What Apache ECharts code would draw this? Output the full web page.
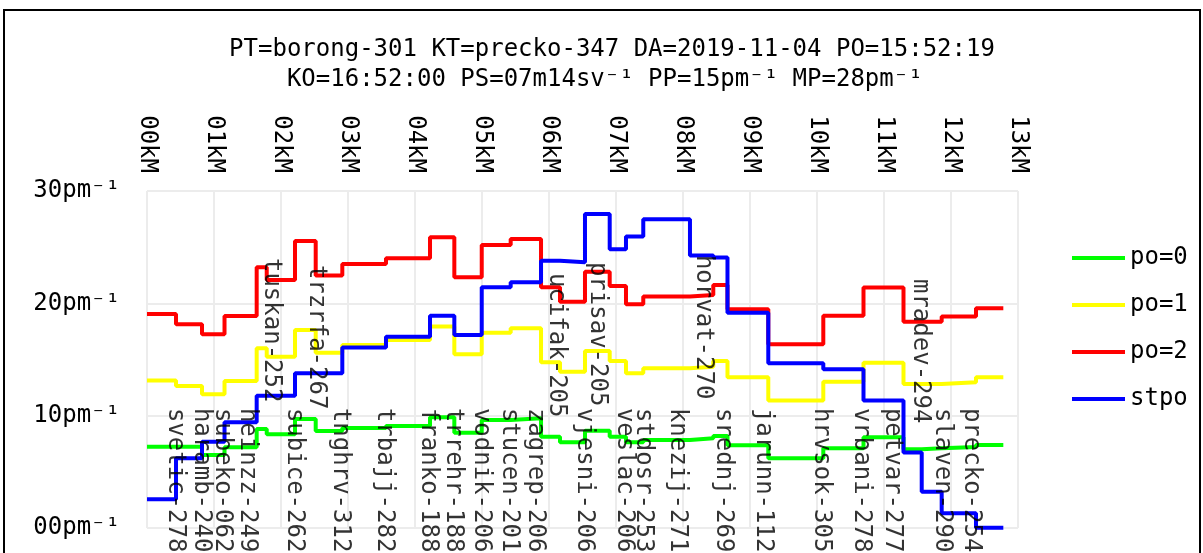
<!DOCTYPE html>
<html>
<head>
<meta charset="utf-8">
<script src="https://cdn.jsdelivr.net/npm/echarts@6/dist/echarts.min.js"></script>
<style>
  html, body { margin: 0; padding: 0; background: #fff; overflow: hidden; }
  #frame { position: absolute; left: 3px; top: 9px; width: 1194px; height: 600px; border: 2px solid #000; }
  #chart { position: absolute; left: 0; top: 0; width: 1203px; height: 553px; }
</style>
</head>
<body>
<div id="frame"></div>
<div id="chart"></div>
<script>
// station positions along the route (km), last one is the end point
const stationKm = [0, 0.433, 0.821, 1.157, 1.637, 1.787, 2.209, 2.518, 2.915, 3.567, 4.224, 4.587,
  4.996, 5.428, 5.881, 6.164, 6.537, 6.906, 7.149, 7.407, 8.104, 8.452, 8.664, 9.273, 10.094,
  10.694, 11.291, 11.563, 11.861, 12.373, 12.781];

// value per segment (from station i to station i+1)
const po0 = [7.24, 7.24, 6.5, 7.19, 8.82, 8.34, 9.71, 8.64, 8.9, 9.08, 9.86, 8.49, 9.62, 9.77,
  8.13, 7.63, 8.66, 8.13, 7.63, 7.84, 7.99, 8.19, 7.36, 6.21, 7.1, 8.08, 7.01, 7.1, 7.21, 7.39];
const po1 = [13.12, 12.64, 11.91, 13.09, 16.0, 15.25, 17.63, 15.61, 16.3, 16.74, 17.93, 15.47,
  17.39, 17.78, 14.76, 13.92, 15.76, 14.87, 13.78, 14.22, 14.36, 14.87, 13.42, 11.34, 13.03,
  14.72, 12.82, 12.82, 12.97, 13.42];
const po2 = [19.06, 18.14, 17.25, 18.88, 23.21, 22.08, 25.56, 22.47, 23.51, 24.02, 25.89, 22.32,
  25.2, 25.73, 21.43, 20.15, 22.82, 21.55, 19.92, 20.6, 20.75, 21.64, 19.47, 16.36, 18.9, 21.4,
  18.37, 18.37, 18.82, 19.56];
const stpo = [2.56, 6.21, 7.68, 9.41, 11.78, 11.78, 13.78, 13.78, 16.06, 17.03, 18.9, 17.19,
  21.43, 21.88, 23.8, 23.66, 27.96, 24.82, 25.94, 27.49, 24.25, 24.07, 19.17, 14.67, 14.13,
  11.34, 6.71, 3.23, 1.31, 0.02];

// station labels: name, x position (km), top of text (value)
const stopNames = ['svetic-278', 'haramb-240', 'subeko-062', 'heinzz-249', 'tuskan-252',
  'subice-262', 'trzrfa-267', 'tnghrv-312', 'trbajj-282', 'franko-188', 'trrehr-188',
  'vodnik-206', 'stucen-201', 'zagrep-206', 'ucifak-205', 'vjesni-206', 'prisav-205',
  'veslac-206', 'stdosr-253', 'knezij-271', 'horvat-270', 'srednj-269', 'jarunn-112',
  'hrvsok-305', 'vrbani-278', 'petvar-277', 'mradev-294', 'slaven-290', 'precko-254'];
const stopLabelKm = [0.418, 0.806, 1.127, 1.493, 1.851, 2.194, 2.522, 2.881, 3.537, 4.194,
  4.567, 4.985, 5.403, 5.791, 6.104, 6.522, 6.716, 7.119, 7.403, 7.91, 8.299, 8.597, 9.194,
  10.06, 10.657, 11.119, 11.537, 11.866, 12.299];
const stopLabelY = [10.69, 10.69, 10.69, 10.69, 24.04, 10.69, 23.42, 10.69, 10.69, 10.69,
  10.69, 10.69, 10.69, 10.69, 22.7, 10.69, 23.69, 10.69, 10.69, 10.69, 24.31, 10.69, 10.69,
  10.69, 10.69, 10.69, 22.17, 10.69, 10.69];

const titleText = 'PT=borong-301 KT=precko-347 DA=2019-11-04 PO=15:52:19\n' +
  'KO=16:52:00 PS=07m14sv\u207b\u00b9 PP=15pm\u207b\u00b9 MP=28pm\u207b\u00b9 ';

const FONT = 'DejaVu Sans Mono';

function steps(vals) {
  const d = vals.map((v, i) => [stationKm[i], v]);
  d.push([stationKm[stationKm.length - 1], vals[vals.length - 1]]);
  return d;
}

function pad2(n) {
  return (n < 10 ? '0' : '') + n;
}

const chart = echarts.init(document.getElementById('chart'));

const lineSeries = (name, color, vals) => ({
  name: name,
  type: 'line',
  step: 'end',
  showSymbol: false,
  data: steps(vals),
  lineStyle: { color: color, width: 4 },
  itemStyle: { color: color },
  z: 3
});

chart.setOption({
  animation: false,
  textStyle: { fontFamily: FONT },
  title: {
    text: titleText,
    left: 607,
    top: 30,
    textAlign: 'center',
    textStyle: { fontFamily: FONT, fontSize: 24, fontWeight: 'normal', color: '#000', lineHeight: 30 }
  },
  legend: {
    orient: 'vertical',
    left: 1067,
    top: 241,
    itemWidth: 53,
    itemHeight: 4,
    itemGap: 23,
    icon: 'rect',
    data: ['po=0', 'po=1', 'po=2', 'stpo'],
    textStyle: { fontFamily: FONT, fontSize: 24, color: '#000' }
  },
  grid: { left: 147, right: 185, top: 191, bottom: 25 },
  xAxis: {
    type: 'value',
    position: 'top',
    min: 0,
    max: 13,
    interval: 1,
    axisLine: { show: false },
    axisTick: { show: false },
    splitLine: { show: true, lineStyle: { color: '#ececec', width: 2 } },
    axisLabel: {
      rotate: -90,
      margin: 18,
      fontFamily: FONT,
      fontSize: 24,
      color: '#000',
      formatter: v => pad2(v) + 'kM'
    }
  },
  yAxis: {
    type: 'value',
    min: 0,
    max: 30,
    interval: 10,
    axisLine: { show: false },
    axisTick: { show: false },
    splitLine: { show: true, lineStyle: { color: '#ececec', width: 2 } },
    axisLabel: {
      margin: 27,
      fontFamily: FONT,
      fontSize: 24,
      color: '#000',
      formatter: v => pad2(v) + 'pm\u207b\u00b9'
    }
  },
  series: [
    lineSeries('po=0', '#00ff00', po0),
    lineSeries('po=1', '#ffff00', po1),
    lineSeries('po=2', '#ff0000', po2),
    lineSeries('stpo', '#0000ff', stpo),
    {
      type: 'scatter',
      symbolSize: 0,
      silent: true,
      z: 5,
      data: stopNames.map((n, i) => [stopLabelKm[i], stopLabelY[i], n]),
      label: {
        show: true,
        position: [0, 0],
        rotate: -90,
        align: 'left',
        verticalAlign: 'middle',
        fontFamily: FONT,
        fontSize: 24,
        color: '#000',
        formatter: p => p.data[2]
      }
    }
  ]
});
</script>
</body>
</html>
